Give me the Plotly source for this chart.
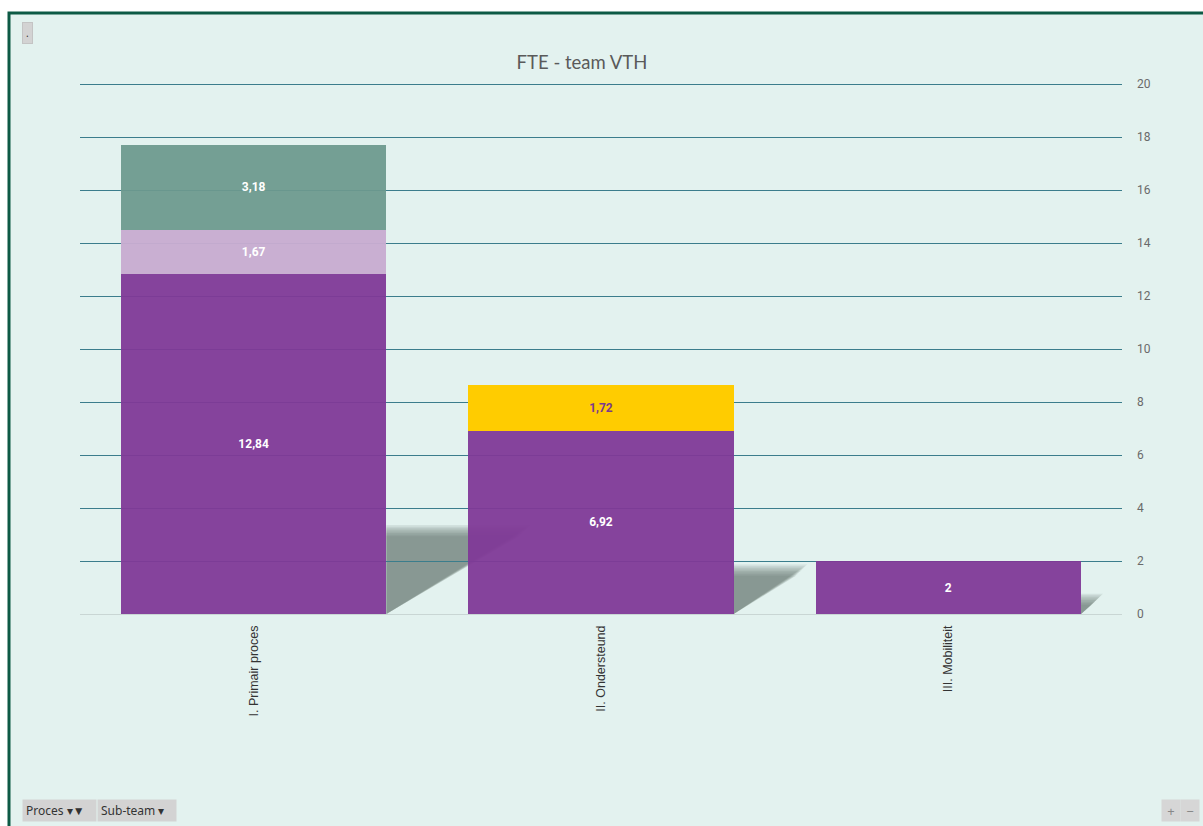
import plotly.graph_objects as go

categories = ["I. Primair proces", "II. Ondersteund", "III. Mobiliteit"]
series_names = ["Sub-team A", "Sub-team B", "Sub-team C", "Sub-team D"]
vals_purple = [12.84, 6.92, 2]
vals_lilac = [1.67, None, None]
vals_yellow = [None, 1.72, None]
vals_teal = [3.18, None, None]
y_ticks = [0, 2, 4, 6, 8, 10, 12, 14, 16, 18, 20]

series = [
    (series_names[0], vals_purple, "rgba(128,57,151,0.95)", "white"),
    (series_names[1], vals_lilac, "rgba(200,172,208,0.96)", "white"),
    (series_names[2], vals_yellow, "rgba(255,204,0,1)", "#7a3a8e"),
    (series_names[3], vals_teal, "rgba(108,153,142,0.94)", "white"),
]

def fmt(v):
    if v is None:
        return ""
    s = ("%.2f" % v).rstrip("0").rstrip(".")
    return s.replace(".", ",")

L, R, T, B = 80, 81, 83, 212
W, H = 1203, 826
pw, ph = W - L - R, H - T - B
y_max = 20.04
u_px = ph / y_max          # pixels per y unit
c_px = pw / len(categories)  # pixels per category
def px(x):
    return (x - L) / pw
def py(y):
    return (H - B - y) / ph

fig = go.Figure()
for name, vals, col, tcol in series:
    fig.add_trace(go.Bar(
        x=categories, y=vals, name=name,
        marker=dict(color=col, line=dict(width=0)),
        text=[fmt(v) for v in vals], textposition="inside",
        insidetextanchor="middle", textangle=0,
        textfont=dict(family="Roboto", size=12, color=tcol, weight="bold"),
        constraintext="none", hoverinfo="skip",
    ))

bargap = 0.236
half = (1 - bargap) / 2
shapes = []
# background frame
shapes.append(dict(type="rect", xref="paper", yref="paper",
                   x0=px(9), x1=px(1215), y0=py(13), y1=py(840),
                   fillcolor="#e3f2ef", line=dict(color="#0d5a45", width=3),
                   layer="below"))
# soft bar shadows derived from bar totals (visible part right of each bar)
totals = [sum(v for v in vs if v is not None)
          for vs in zip(vals_purple, vals_lilac, vals_yellow, vals_teal)]
n_layers = 8
for i, tot in enumerate(totals):
    h = 0.25 + 0.165 * tot                 # y units
    dx = (2.4 + 7.78 * tot) / c_px         # category units
    xr = i + half
    for k in range(n_layers):
        hk = h - (k * 1.6 - 5) / u_px
        dk = dx - (k * 1.6 - 4) / c_px
        if hk <= 0 or dk <= 0:
            continue
        path = "M %f,0 L %f,%f L %f,%f Z" % (xr, xr + dk, hk, xr, hk)
        shapes.append(dict(type="path", xref="x", yref="y", path=path,
                           fillcolor="#5d6866", opacity=0.12,
                           line=dict(width=0), layer="below"))

btn_font = dict(family="Noto Sans", size=12, color="#333333")
annotations = [
    dict(text=".", x=px(27), y=py(33), xref="paper", yref="paper",
         xanchor="center", yanchor="middle", showarrow=False,
         bgcolor="#d3d3d3", bordercolor="#c4c4c4", borderwidth=1, borderpad=3,
         font=dict(family="Noto Sans", size=10, color="#333")),
    dict(text="Proces ▾▼", x=px(22), y=py(810), xref="paper", yref="paper",
         xanchor="left", yanchor="middle", width=67, height=15, align="left",
         showarrow=False, bgcolor="#d3d3d3", borderpad=3, font=btn_font),
    dict(text="Sub-team ▾", x=px(97), y=py(810), xref="paper", yref="paper",
         xanchor="left", yanchor="middle", width=72, height=15, align="left",
         showarrow=False, bgcolor="#d3d3d3", borderpad=3, font=btn_font),
    dict(text="+", x=px(1171), y=py(810), xref="paper", yref="paper",
         xanchor="center", yanchor="middle", width=12, height=15,
         showarrow=False, bgcolor="#d6d6d6", borderpad=3,
         font=dict(family="Noto Sans", size=13, color="#888")),
    dict(text="−", x=px(1190), y=py(810), xref="paper", yref="paper",
         xanchor="center", yanchor="middle", width=12, height=15,
         showarrow=False, bgcolor="#d6d6d6", borderpad=3,
         font=dict(family="Noto Sans", size=13, color="#888")),
]

fig.update_layout(
    width=W, height=H,
    margin=dict(l=L, r=R, t=T, b=B),
    paper_bgcolor="white", plot_bgcolor="rgba(0,0,0,0)",
    barmode="stack", bargap=bargap, showlegend=False,
    title=dict(text="FTE - team VTH", x=px(582), xanchor="center", xref="paper",
               y=1 - 63 / H, yanchor="middle", yref="container",
               font=dict(family="Lato", size=18.5, color="#5a5a5a")),
    shapes=shapes, annotations=annotations,
    xaxis=dict(tickangle=-90,
               tickfont=dict(family="Liberation Sans", size=12.5, color="#333"),
               showline=False, showgrid=False, ticks="", ticklabelstandoff=8),
    yaxis=dict(side="right", range=[0, y_max], tickvals=y_ticks,
               gridcolor="#3b7d8c", gridwidth=1.3,
               zeroline=True, zerolinecolor="#c9d6d4", zerolinewidth=1,
               tickfont=dict(family="Roboto", size=12, color="#6a6a6a"),
               ticklabelstandoff=14, showline=False),
)

fig.write_html("out.html")
